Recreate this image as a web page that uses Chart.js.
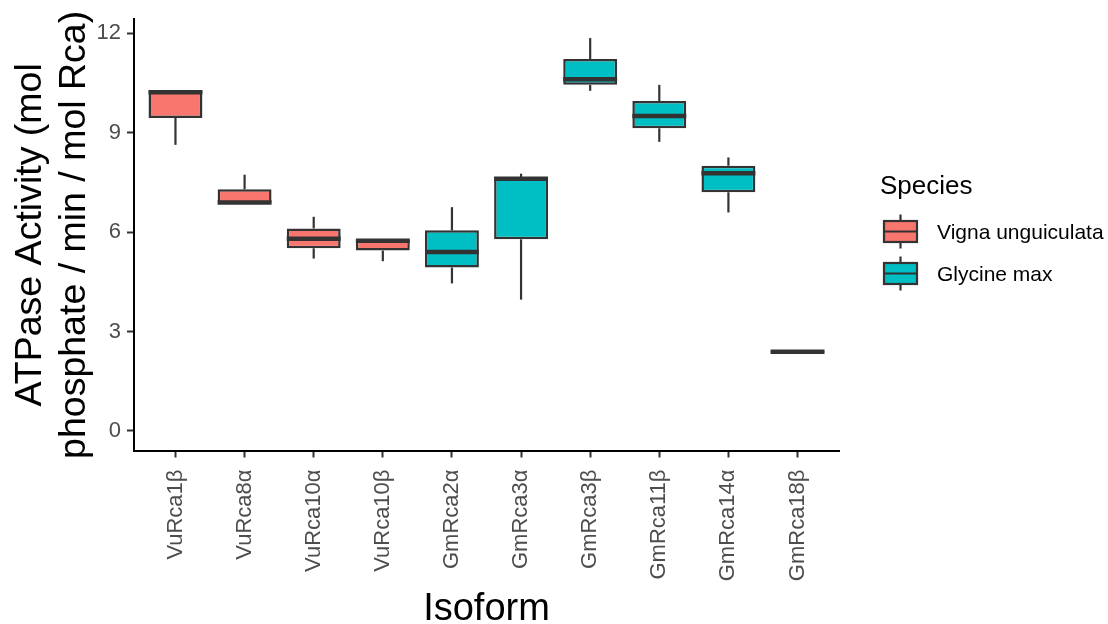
<!DOCTYPE html>
<html>
<head>
<meta charset="utf-8">
<script src="https://cdn.jsdelivr.net/npm/chart.js@4.4.1/dist/chart.umd.min.js"></script>
<style>
  html, body { margin: 0; padding: 0; background: #ffffff; }
  #wrap { width: 1108px; height: 624px; }
</style>
</head>
<body>
<div id="wrap"><canvas id="chart" width="1108" height="624"></canvas></div>
<script>
// Rubisco activase isoforms and ATPase activity summaries (mol phosphate / min / mol Rca)
const isoforms = ['VuRca1β', 'VuRca8α', 'VuRca10α', 'VuRca10β', 'GmRca2α', 'GmRca3α', 'GmRca3β', 'GmRca11β', 'GmRca14α', 'GmRca18β'];
const isoformSpecies = ['Vigna unguiculata', 'Vigna unguiculata', 'Vigna unguiculata', 'Vigna unguiculata',
  'Glycine max', 'Glycine max', 'Glycine max', 'Glycine max', 'Glycine max', 'Glycine max'];
const speciesNames = ['Vigna unguiculata', 'Glycine max'];
const speciesColors = ['#F8766D', '#00BFC4'];

const whiskerLow  = [8.63, 6.85, 5.20, 5.12, 4.45, 3.96, 10.26, 8.72, 6.59, 2.33];
const quartile1   = [9.44, 6.85, 5.51, 5.44, 4.93, 5.78, 10.44, 9.13, 7.20, 2.36];
const medians     = [10.22, 6.89, 5.80, 5.74, 5.40, 7.61, 10.61, 9.50, 7.77, 2.39];
const quartile3   = [10.27, 7.29, 6.11, 5.77, 6.05, 7.66, 11.22, 9.95, 8.00, 2.43];
const whiskerHigh = [10.27, 7.73, 6.46, 5.77, 6.75, 7.76, 11.85, 10.44, 8.25, 2.43];

const yTickValues = [0, 3, 6, 9, 12];

const FONT = '"Liberation Sans", Arial, Helvetica, sans-serif';
const LINE = '#333333';
Chart.defaults.font.family = FONT;

// One floating-bar dataset per species: each bar spans the interquartile range
const datasets = speciesNames.map((sp, s) => ({
  label: sp,
  data: isoforms
    .map((name, i) => (isoformSpecies[i] === sp ? { x: i + 1, y: [quartile1[i], quartile3[i]] } : null))
    .filter(Boolean),
  backgroundColor: speciesColors[s],
  borderColor: LINE,
  borderWidth: 2.5,
  borderSkipped: false,
  barPercentage: 0.78,
  categoryPercentage: 1,
  grouped: false
}));

// Whiskers and median lines drawn on top of the interquartile boxes
const boxDetails = {
  id: 'boxDetails',
  afterDatasetsDraw(chart) {
    const { ctx, scales: { y } } = chart;
    ctx.save();
    ctx.strokeStyle = LINE;
    ctx.lineCap = 'butt';
    chart.data.datasets.forEach((ds, d) => {
      const meta = chart.getDatasetMeta(d);
      meta.data.forEach((bar, j) => {
        const i = ds.data[j].x - 1;
        const cx = bar.x;
        const half = bar.width / 2;
        ctx.lineWidth = 2.2;
        if (whiskerHigh[i] > quartile3[i]) {
          ctx.beginPath();
          ctx.moveTo(cx, y.getPixelForValue(quartile3[i]));
          ctx.lineTo(cx, y.getPixelForValue(whiskerHigh[i]));
          ctx.stroke();
        }
        if (whiskerLow[i] < quartile1[i]) {
          ctx.beginPath();
          ctx.moveTo(cx, y.getPixelForValue(quartile1[i]));
          ctx.lineTo(cx, y.getPixelForValue(whiskerLow[i]));
          ctx.stroke();
        }
        ctx.lineWidth = 4.5;
        const my = y.getPixelForValue(medians[i]);
        ctx.beginPath();
        ctx.moveTo(cx - half, my);
        ctx.lineTo(cx + half, my);
        ctx.stroke();
      });
    });
    ctx.restore();
  }
};

// Species legend with box-plot key glyphs
const speciesLegend = {
  id: 'speciesLegend',
  afterDraw(chart) {
    const ctx = chart.ctx;
    ctx.save();
    ctx.fillStyle = '#000000';
    ctx.textAlign = 'left';
    ctx.textBaseline = 'middle';
    ctx.font = '26px ' + FONT;
    ctx.fillText('Species', 880, 187);
    speciesNames.forEach((sp, s) => {
      const cy = 231.5 + 42 * s;
      const cx = 900.5;
      ctx.strokeStyle = LINE;
      ctx.lineWidth = 2.2;
      ctx.beginPath();
      ctx.moveTo(cx, cy - 17);
      ctx.lineTo(cx, cy + 17);
      ctx.stroke();
      ctx.fillStyle = speciesColors[s];
      ctx.fillRect(cx - 16.5, cy - 10.5, 33, 21);
      ctx.strokeRect(cx - 16.5, cy - 10.5, 33, 21);
      ctx.beginPath();
      ctx.moveTo(cx - 16.5, cy);
      ctx.lineTo(cx + 16.5, cy);
      ctx.stroke();
      ctx.fillStyle = '#000000';
      ctx.font = '21px ' + FONT;
      ctx.fillText(sp, 937, cy + 1.5);
    });
    ctx.restore();
  }
};

new Chart(document.getElementById('chart'), {
  type: 'bar',
  data: { datasets },
  plugins: [boxDetails, speciesLegend],
  options: {
    responsive: false,
    animation: false,
    layout: { padding: { top: 17, right: 269, bottom: 0, left: 0 } },
    plugins: { legend: { display: false }, tooltip: { enabled: false } },
    scales: {
      x: {
        type: 'linear',
        min: 0.4,
        max: 10.6,
        offset: false,
        afterBuildTicks(scale) {
          scale.ticks = isoforms.map((n, i) => ({ value: i + 1 }));
        },
        afterFit(scale) { scale.height = 173.5; },
        ticks: {
          autoSkip: false,
          minRotation: 90,
          maxRotation: 90,
          padding: 12,
          color: '#4D4D4D',
          font: { size: 22 },
          callback: (v) => isoforms[Math.round(v) - 1]
        },
        grid: { display: true, offset: false, drawOnChartArea: false, drawTicks: true, tickLength: 7, tickColor: LINE, tickWidth: 2 },
        border: { display: true, color: '#000000', width: 2 },
        title: {
          display: true,
          text: 'Isoform',
          color: '#000000',
          font: { size: 38, lineHeight: 0.75 },
          padding: { top: 0, bottom: 0 }
        }
      },
      y: {
        min: -0.59,
        max: 12.42,
        afterBuildTicks(scale) {
          scale.ticks = yTickValues.map(v => ({ value: v }));
        },
        afterFit(scale) { scale.width = 134; },
        ticks: {
          padding: 6,
          color: '#4D4D4D',
          font: { size: 22 }
        },
        grid: { display: true, drawOnChartArea: false, drawTicks: true, tickLength: 7, tickColor: LINE, tickWidth: 2 },
        border: { display: true, color: '#000000', width: 2 },
        title: {
          display: true,
          text: ['ATPase Activity (mol', 'phosphate / min / mol Rca)'],
          color: '#000000',
          font: { size: 37.5, lineHeight: 1.15 },
          padding: { top: 9.5, bottom: 0 }
        }
      }
    }
  }
});
</script>
</body>
</html>
